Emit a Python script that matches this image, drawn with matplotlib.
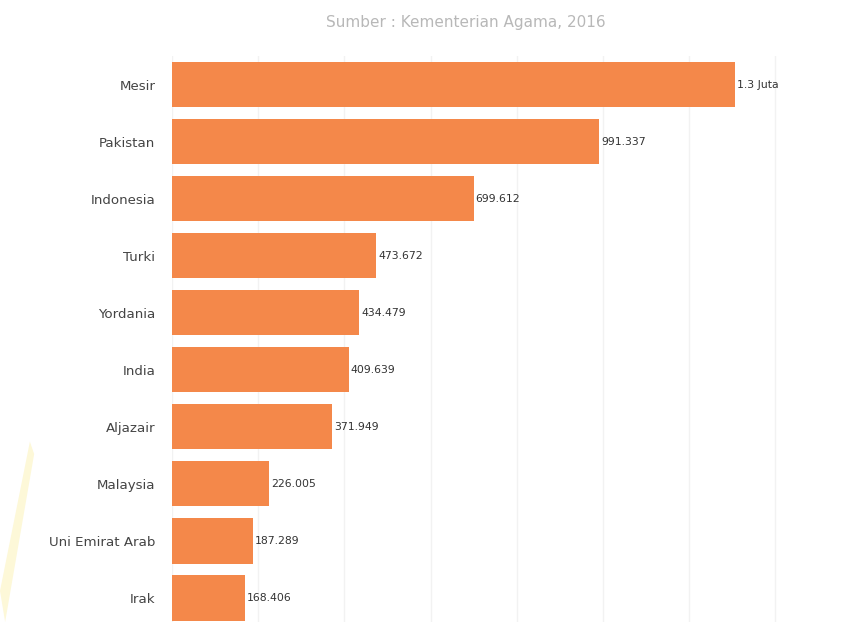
import numpy as np
import matplotlib.pyplot as plt
from matplotlib.patches import Polygon

countries = ["Mesir", "Pakistan", "Indonesia", "Turki", "Yordania", "India",
             "Aljazair", "Malaysia", "Uni Emirat Arab", "Irak"]
values = [1306000, 991337, 699612, 473672, 434479, 409639,
          371949, 226005, 187289, 168406]
value_labels = ["1.3 Juta", "991.337", "699.612", "473.672", "434.479", "409.639",
                "371.949", "226.005", "187.289", "168.406"]

fig = plt.figure(figsize=(8.54, 6.22), dpi=100)
ax = fig.add_axes([172 / 854, 0, (790 - 172) / 854, 1 - 56 / 622])

y = np.arange(len(countries))
ax.barh(y, values, height=0.79, color="#f4884a", zorder=2)

for i, (v, lab) in enumerate(zip(values, value_labels)):
    ax.annotate(lab, (v, i), xytext=(1.5, 0), textcoords="offset points",
                va="center", ha="left", fontsize=7.8, color="#333333")

ax.set_xlim(0, 1434000)
ax.set_ylim(9.42, -0.5)
ax.set_xticks(np.arange(0, 1400001, 200000))
ax.grid(axis="x", color="#f2f2f2", linewidth=1, zorder=0)
ax.tick_params(axis="x", length=0, labelbottom=False)
ax.set_yticks(y)
ax.set_yticklabels(countries, fontsize=9.6, color="#444444")
ax.tick_params(axis="y", length=0, pad=12)
for s in ax.spines.values():
    s.set_visible(False)

fig.text(466 / 854, 1 - 22 / 622, "Sumber : Kementerian Agama, 2016",
         ha="center", va="center", fontsize=11, color="#b8b8b8")

# faint watermark stroke in the lower left corner
fig.patches.append(Polygon([[0, 0.05], [0.035, 0.29], [0.04, 0.27], [0.006, 0.0]],
                           closed=True, transform=fig.transFigure,
                           facecolor="#fdf8d8", edgecolor="none", zorder=0))

fig.savefig("out.png", dpi=100)
